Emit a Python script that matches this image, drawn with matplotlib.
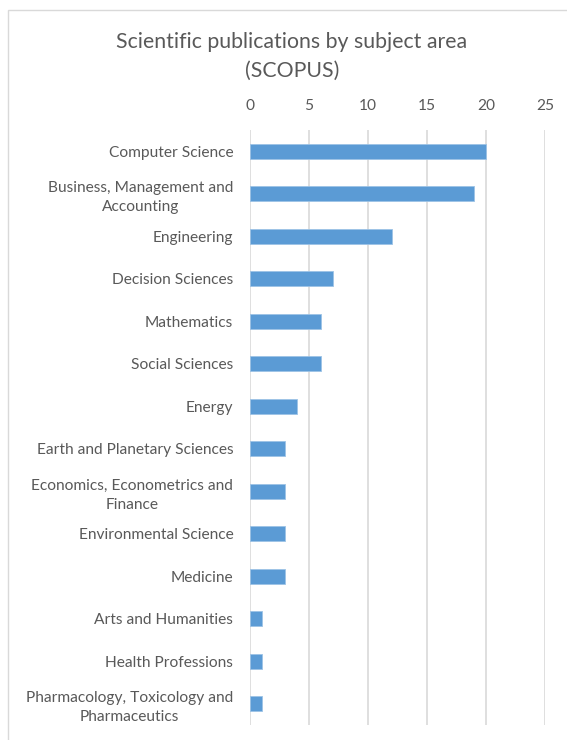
import matplotlib.pyplot as plt
from matplotlib.patches import Rectangle

categories = [
    "Computer Science",
    "Business, Management and\nAccounting",
    "Engineering",
    "Decision Sciences",
    "Mathematics",
    "Social Sciences",
    "Energy",
    "Earth and Planetary Sciences",
    "Economics, Econometrics and\nFinance",
    "Environmental Science",
    "Medicine",
    "Arts and Humanities",
    "Health Professions",
    "Pharmacology, Toxicology and\nPharmaceutics",
]
counts = [20, 19, 12, 7, 6, 6, 4, 3, 3, 3, 3, 1, 1, 1]
ticks = [0, 5, 10, 15, 20, 25]

plt.rcParams['font.family'] = ['Lato', 'DejaVu Sans']
text_color = '#595959'

fig = plt.figure(figsize=(5.67, 7.4), dpi=100)
ax = fig.add_axes([250 / 567, 15 / 740, 295 / 567, 595 / 740])

ax.barh(range(len(categories)), counts, height=0.35, color='#5B9BD5',
        edgecolor='#9DC3E6', linewidth=0.6, zorder=3)
ax.set_yticks(range(len(categories)))
ax.set_yticklabels(categories, fontsize=11.2, color=text_color, ha='right',
                   multialignment='center', linespacing=1.45)
ax.set_ylim(len(categories) - 0.5, -0.5)
ax.set_xlim(0, 25)
ax.set_xticks(ticks)
ax.xaxis.tick_top()
ax.tick_params(axis='x', length=0, pad=12, labelsize=11.2, labelcolor=text_color)
ax.tick_params(axis='y', length=0, pad=12)
ax.grid(axis='x', color='#D9D9D9', linewidth=1.2, zorder=0)
for s in ax.spines.values():
    s.set_visible(False)

fig.text(0.515, 1 - 42 / 740, "Scientific publications by subject area",
         ha='center', va='center', fontsize=15.3, color=text_color)
fig.text(0.515, 1 - 71 / 740, "(SCOPUS)",
         ha='center', va='center', fontsize=15.3, color=text_color)

fig.patches.append(Rectangle((8 / 567, -0.1), 1.1, 1 - 10 / 740 + 0.1,
                             transform=fig.transFigure, fill=False,
                             edgecolor='#D9D9D9', linewidth=1.0))

fig.savefig('out.png', dpi=100)
